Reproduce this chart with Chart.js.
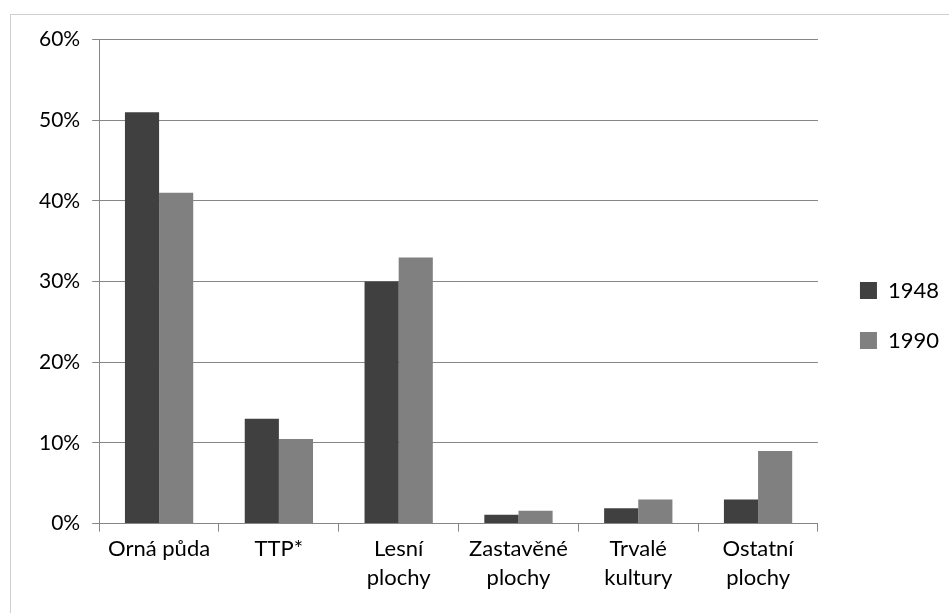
<!DOCTYPE html>
<html>
<head>
<meta charset="utf-8">
<script src="https://cdn.jsdelivr.net/npm/chart.js@4.4.1/dist/chart.umd.min.js"></script>
<style>
    body { margin: 0; background: #fff; }
    #frame {
        position: absolute; left: 10px; top: 14px;
        width: 960px; height: 620px;
        border: 1px solid #d0d0d0;
    }
    #wrap {
        position: absolute; left: 11px; top: 15px;
        width: 938px; height: 598px;
    }
</style>
</head>
<body>
<div id="frame"></div>
<div id="wrap"><canvas id="landChart"></canvas></div>
<script>
var categories = ['Orná půda', 'TTP*', ['Lesní', 'plochy'], ['Zastavěné', 'plochy'], ['Trvalé', 'kultury'], ['Ostatní', 'plochy']];
var values1948 = [51, 13, 30, 1.1, 1.9, 3];
var values1990 = [41, 10.5, 33, 1.6, 3, 9];
var seriesNames = ['1948', '1990'];

var fontFamily = 'Lato, "Open Sans", sans-serif';
var gridColor = '#868686';

// push the legend a bit further from the plot, like the original
var legendShift = {
    id: 'legendShift',
    afterLayout: function (chart) {
        if (chart.legend) {
            chart.legend.left += 14;
            chart.legend.right += 14;
        }
    }
};

var ctx = document.getElementById('landChart').getContext('2d');
window.landChart = new Chart(ctx, {
    type: 'bar',
    data: {
        labels: categories,
        datasets: [{
            label: seriesNames[0],
            data: values1948,
            backgroundColor: '#404040',
            categoryPercentage: 0.57,
            barPercentage: 1
        }, {
            label: seriesNames[1],
            data: values1990,
            backgroundColor: '#808080',
            categoryPercentage: 0.57,
            barPercentage: 1
        }]
    },
    options: {
        responsive: true,
        maintainAspectRatio: false,
        animation: false,
        layout: {
            padding: { left: 16, top: 21, right: 14, bottom: 18 }
        },
        scales: {
            x: {
                grid: {
                    drawOnChartArea: false,
                    drawTicks: true,
                    tickLength: 8,
                    color: gridColor
                },
                border: { color: gridColor },
                ticks: {
                    color: '#000',
                    maxRotation: 0,
                    autoSkip: false,
                    padding: 2,
                    font: { family: fontFamily, size: 22, lineHeight: 1.35 }
                }
            },
            y: {
                min: 0,
                max: 60,
                grid: {
                    color: gridColor,
                    tickLength: 7
                },
                border: { color: gridColor },
                ticks: {
                    stepSize: 10,
                    color: '#000',
                    padding: 12,
                    font: { family: fontFamily, size: 21 },
                    callback: function (value) { return value + '%'; }
                }
            }
        },
        plugins: {
            legend: {
                position: 'right',
                labels: {
                    boxWidth: 17,
                    boxHeight: 17,
                    padding: 28,
                    color: '#000',
                    font: { family: fontFamily, size: 22 }
                }
            },
            tooltip: { enabled: false }
        }
    },
    plugins: [legendShift]
});
</script>
</body>
</html>
